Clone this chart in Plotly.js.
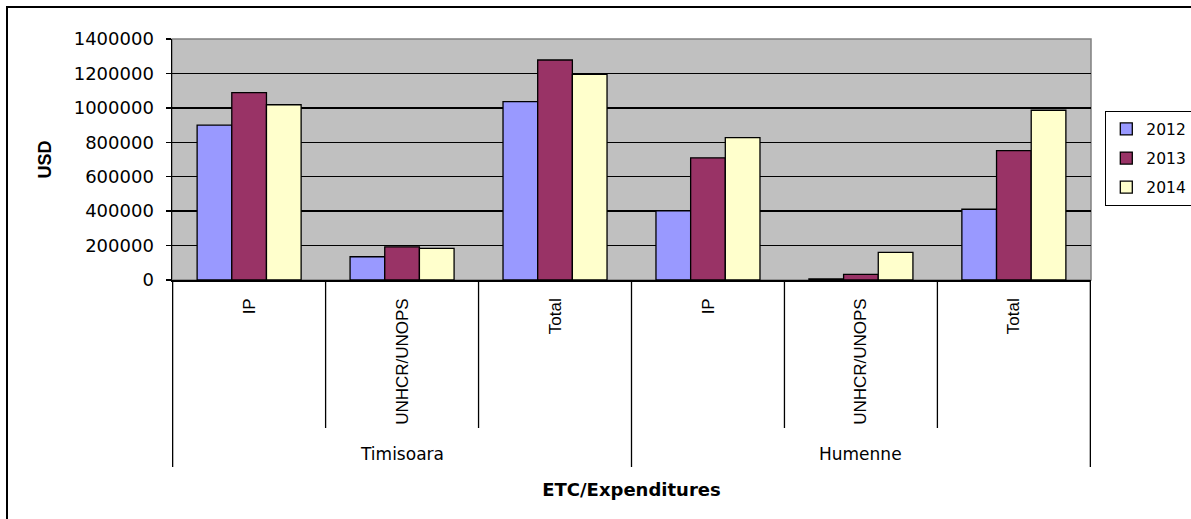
<!DOCTYPE html>
<html>
<head>
<meta charset="utf-8">
<script src="https://cdn.plot.ly/plotly-3.0.1.min.js"></script>
<style>
  html, body { margin: 0; padding: 0; background: #ffffff; }
  #chart { width: 1191px; height: 519px; }
</style>
</head>
<body>
<div id="chart"></div>
<script>
// ---- data ----
const groups = ["Timisoara", "Timisoara", "Timisoara", "Humenne", "Humenne", "Humenne"];
const subLabels = ["IP", "UNHCR/UNOPS", "Total", "IP", "UNHCR/UNOPS", "Total"];
const seriesNames = ["2012", "2013", "2014"];
const values2012 = [900000, 135000, 1036000, 401000, 6000, 411000];
const values2013 = [1088000, 193000, 1278000, 710000, 33000, 751000];
const values2014 = [1018000, 184000, 1195000, 827000, 161000, 986000];
const yTickValues = [0, 200000, 400000, 600000, 800000, 1000000, 1200000, 1400000];
const groupNames = ["Timisoara", "Humenne"];

// ---- build ----
const categories = groups.map((g, i) => g + " – " + subLabels[i]);
const colors = ["#9999ff", "#993366", "#ffffcc"];
const allValues = [values2012, values2013, values2014];

const traces = seriesNames.map((name, k) => ({
  type: "bar",
  name: name,
  legendgroup: name,
  x: categories,
  y: allValues[k],
  marker: { color: colors[k], line: { color: "#000000", width: 1.3 } },
  hoverinfo: "x+y+name"
}));

const shapes = [];
// plot-area frame (grey top/right)
shapes.push({ type: "rect", xref: "paper", yref: "paper", x0: 0, x1: 1, y0: 0, y1: 1,
  line: { color: "#808080", width: 1.5 }, layer: "below" });
// sub-category dividers under the axis
for (let i = 0; i <= categories.length; i++) {
  const isGroupEdge = (i === 0 || i === categories.length || groups[i] !== groups[i - 1]);
  shapes.push({
    type: "line", xref: "x", yref: "paper", ysizemode: "pixel", yanchor: 0,
    x0: i - 0.5, x1: i - 0.5, y0: 0, y1: isGroupEdge ? -187 : -148,
    line: { color: "#000000", width: 1.3 }
  });
}
// outer chart border (left & top visible)
shapes.push({ type: "rect", xref: "paper", yref: "paper",
  xsizemode: "pixel", xanchor: 0, x0: -165, x1: 1200,
  ysizemode: "pixel", yanchor: 0, y0: -400, y1: 273,
  line: { color: "#000000", width: 2 } });

const annotations = groupNames.map(g => {
  const idx = groups.map((v, i) => v === g ? i : -1).filter(i => i >= 0);
  const center = (idx[0] + idx[idx.length - 1]) / 2;
  return { text: g, xref: "x", yref: "paper", x: center, y: 0, yshift: -174,
    showarrow: false, xanchor: "center", yanchor: "middle",
    font: { family: "DejaVu Sans", size: 17, color: "#000000" } };
});

const layout = {
  width: 1191, height: 519,
  margin: { l: 172, r: 100, t: 39, b: 239, pad: 0 },
  paper_bgcolor: "#ffffff",
  plot_bgcolor: "#c0c0c0",
  barmode: "group",
  bargap: 0.32,
  bargroupgap: 0,
  showlegend: true,
  legend: {
    xref: "container", yref: "container",
    x: 1105 / 1191, xanchor: "left", y: 1 - 111 / 519, yanchor: "top",
    bordercolor: "#000000", borderwidth: 1.3, bgcolor: "#ffffff",
    font: { family: "DejaVu Sans", size: 15.5, color: "#000000" },
    itemwidth: 30, traceorder: "grouped", tracegroupgap: 6
  },
  xaxis: {
    type: "category",
    categoryorder: "array", categoryarray: categories,
    tickmode: "array", tickvals: categories, ticktext: subLabels,
    tickangle: -90,
    ticks: "",
    ticklabelstandoff: 10,
    tickfont: { family: "Liberation Sans, Arial", size: 17, color: "#000000" },
    showline: true, linecolor: "#000000", linewidth: 1.5,
    showgrid: false, zeroline: false,
    automargin: false,
    title: { text: "ETC/Expenditures", standoff: 59,
      font: { family: "DejaVu Sans", size: 18, color: "#000000", weight: "bold" } }
  },
  yaxis: {
    range: [0, 1400000],
    tickmode: "array", tickvals: yTickValues,
    ticktext: yTickValues.map(v => String(v)),
    ticks: "outside", ticklen: 5, tickcolor: "#000000", tickwidth: 1.3,
    ticklabelstandoff: 8,
    tickfont: { family: "DejaVu Sans", size: 18, color: "#000000" },
    showline: true, linecolor: "#000000", linewidth: 1.5,
    showgrid: true, gridcolor: "#000000", gridwidth: 1.3,
    zeroline: false,
    automargin: false,
    title: { text: "USD", standoff: 17,
      font: { family: "Liberation Sans, Arial", size: 18, color: "#000000", weight: "bold" } }
  },
  shapes: shapes,
  annotations: annotations,
  font: { family: "DejaVu Sans", color: "#000000" }
};

Plotly.newPlot("chart", traces, layout, { displayModeBar: false, staticPlot: true });
</script>
</body>
</html>
